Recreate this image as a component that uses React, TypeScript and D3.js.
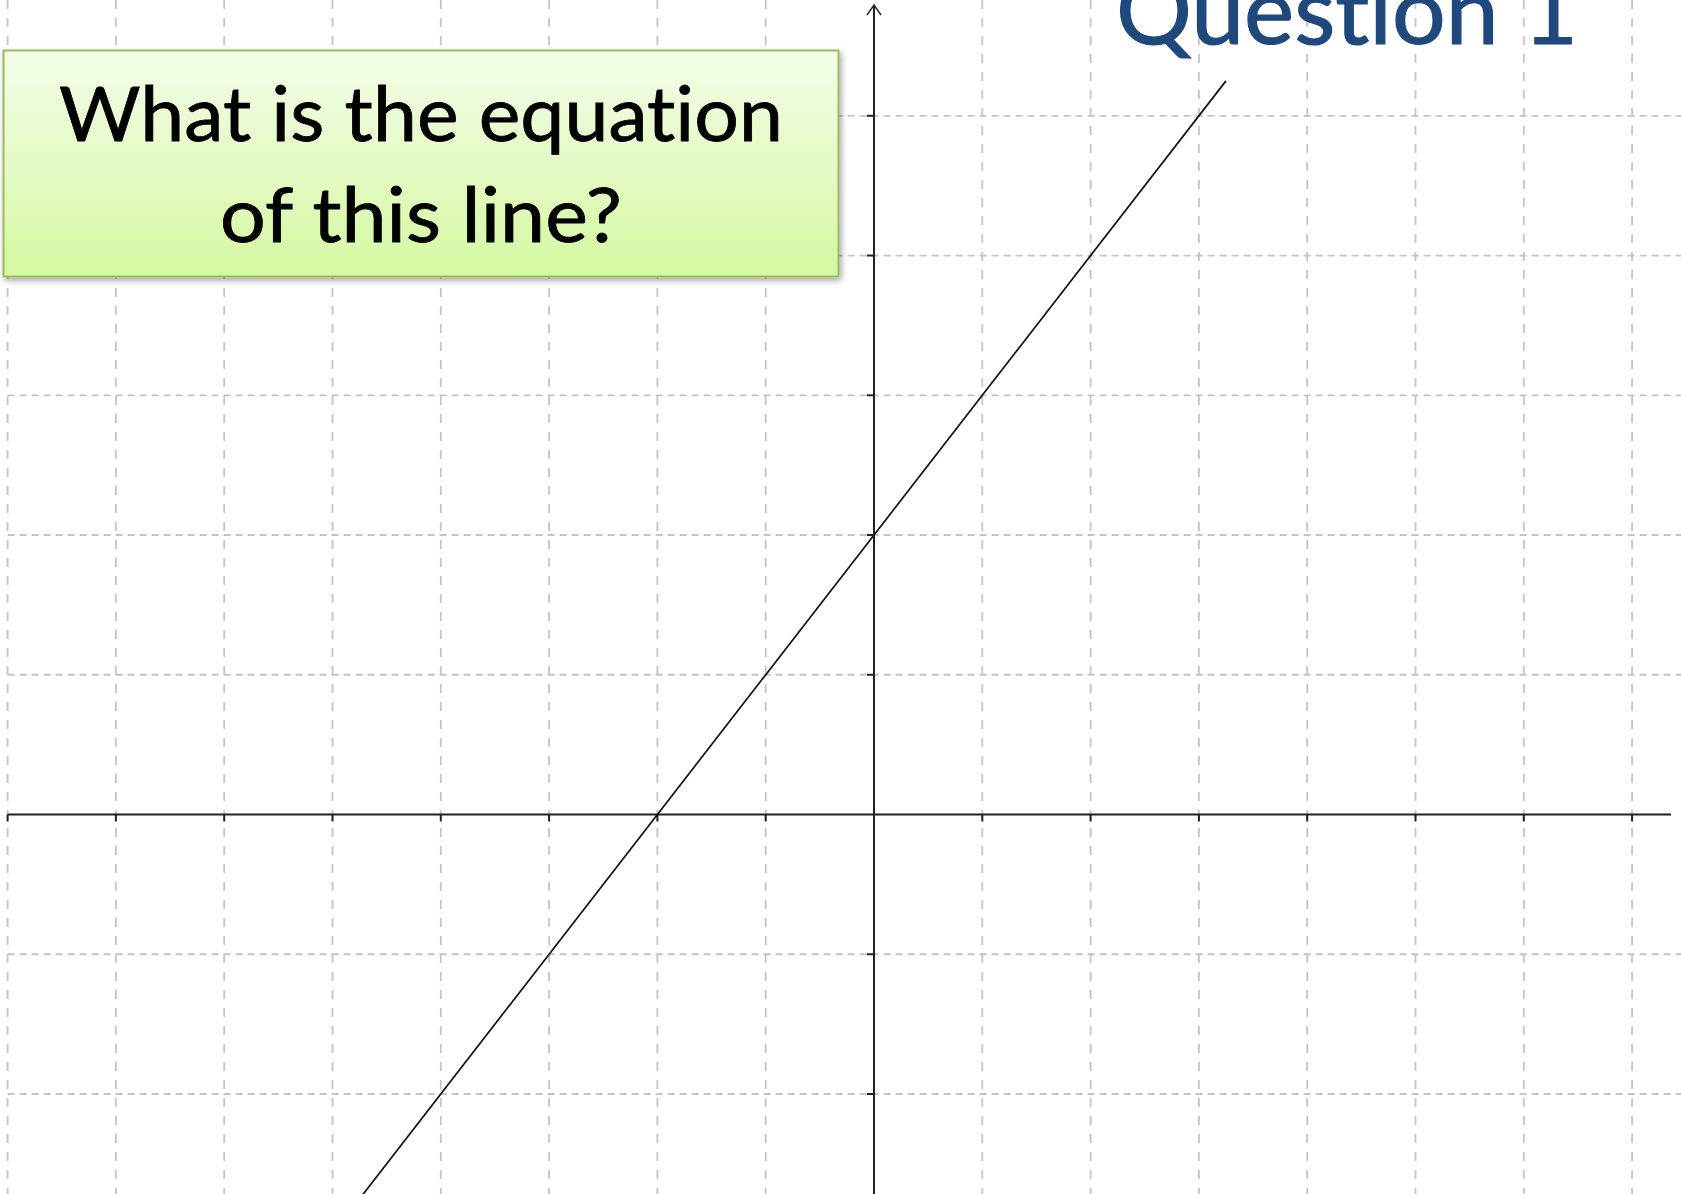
import React from "react";
import * as d3 from "d3";

// Coordinate plane: integer grid positions along each axis
const xGridValues = [-8, -7, -6, -5, -4, -3, -2, -1, 0, 1, 2, 3, 4, 5, 6, 7];
const yGridValues = [-2, -1, 1, 2, 3, 4, 5];
const xTickValues = [-8, -7, -6, -5, -4, -3, -2, -1, 1, 2, 3, 4, 5, 6, 7];
const yTickValues = [-2, -1, 1, 2, 3, 4, 5];

// The plotted line, given by two points on it (y = x + 2)
const linePoints = [
  { x: -5, y: -3 },
  { x: 3.25, y: 5.25 },
];

const titleText = "Question 1";
const promptLines = ["What is the equation", "of this line?"];

const W = 1681;
const H = 1194;

const textStyle: React.CSSProperties = {
  fontVariantLigatures: "none",
  fontFeatureSettings: '"liga" 0, "clig" 0',
};

export default function App() {
  const x = d3.scaleLinear().domain([-8, 7]).range([7.6, 1632.1]);
  const y = d3.scaleLinear().domain([0, 5]).range([814.5, 115.8]);

  const line = d3
    .line<{ x: number; y: number }>()
    .x((d) => x(d.x))
    .y((d) => y(d.y));

  const x0 = x(0);
  const y0 = y(0);

  return (
    <svg
      width={W}
      height={H}
      viewBox={`0 0 ${W} ${H}`}
      style={{ position: "absolute", left: 0, top: 0, background: "#ffffff" }}
    >
      <defs>
        <linearGradient id="boxFill" x1="0" y1="0" x2="0" y2="1">
          <stop offset="0%" stopColor="#f3fde9" />
          <stop offset="100%" stopColor="#d5f8a1" />
        </linearGradient>
        <filter id="boxShadow" x="-5%" y="-10%" width="115%" height="130%">
          <feDropShadow dx="2" dy="3" stdDeviation="3" floodColor="#000" floodOpacity="0.35" />
        </filter>
      </defs>

      {/* vertical grid lines */}
      <g stroke="#c4c4c4" strokeWidth={1.8} strokeDasharray="9 9">
        {xGridValues
          .filter((v) => v !== 0)
          .map((v) => (
            <line key={`gx${v}`} x1={x(v)} x2={x(v)} y1={0} y2={H} />
          ))}
      </g>

      {/* horizontal grid lines */}
      <g stroke="#c4c4c4" strokeWidth={1.8} strokeDasharray="7 5">
        {yGridValues.map((v) => (
          <line key={`gy${v}`} x1={x(-8)} x2={W} y1={y(v)} y2={y(v)} />
        ))}
      </g>

      {/* axes */}
      <g stroke="#222" strokeWidth={2} fill="none">
        <line x1={x(-8)} x2={1671} y1={y0} y2={y0} />
        <line x1={x0} x2={x0} y1={H} y2={5} />
        <path d={`M${x0 - 7},${15} L${x0},${5} L${x0 + 7},${15}`} strokeWidth={1.4} />
        {xTickValues.map((v) => (
          <line key={`tx${v}`} x1={x(v)} x2={x(v)} y1={y0} y2={y0 + 7} />
        ))}
        {yTickValues.map((v) => (
          <line key={`ty${v}`} x1={x0 - 7} x2={x0} y1={y(v)} y2={y(v)} />
        ))}
      </g>

      {/* the line */}
      <path d={line(linePoints) ?? ""} stroke="#111" strokeWidth={1.7} fill="none" />

      {/* title */}
      <text
        x={1116}
        y={43.5}
        fontFamily="Lato, 'Open Sans', sans-serif"
        fontSize={94}
        fill="#1f497d"
        stroke="#1f497d"
        strokeWidth={1.2}
        textLength={462}
        lengthAdjust="spacingAndGlyphs"
        style={textStyle}
      >
        {titleText}
      </text>

      {/* prompt box */}
      <rect
        x={3.5}
        y={50.5}
        width={835}
        height={226}
        fill="url(#boxFill)"
        stroke="#9bbb59"
        strokeWidth={2}
        filter="url(#boxShadow)"
      />
      <text
        x={421}
        y={141}
        textAnchor="middle"
        fontFamily="Lato, 'Open Sans', sans-serif"
        fontSize={76}
        fill="#000"
        stroke="#000"
        strokeWidth={0.8}
        textLength={724}
        lengthAdjust="spacingAndGlyphs"
        style={textStyle}
      >
        {promptLines[0]}
      </text>
      <text
        x={421}
        y={242}
        textAnchor="middle"
        fontFamily="Lato, 'Open Sans', sans-serif"
        fontSize={76}
        fill="#000"
        stroke="#000"
        strokeWidth={0.8}
        textLength={402}
        lengthAdjust="spacingAndGlyphs"
        style={textStyle}
      >
        {promptLines[1]}
      </text>
    </svg>
  );
}
